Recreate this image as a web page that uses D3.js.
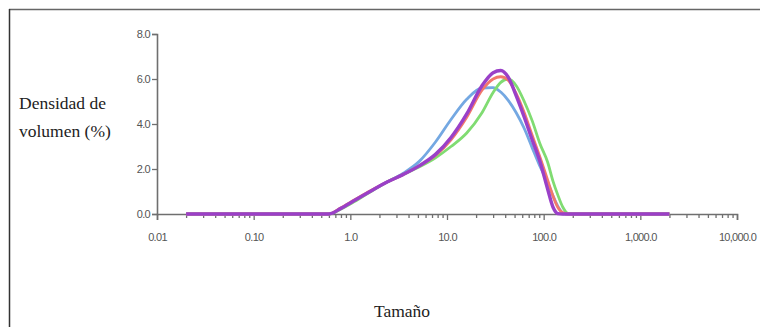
<!DOCTYPE html>
<html>
<head>
<meta charset="utf-8">
<script src="https://cdn.jsdelivr.net/npm/d3@7"></script>
<style>
  body { margin: 0; background: #fff; }
  .tick text { font-family: "Liberation Sans Narrow", "Arial Narrow", "Liberation Sans", sans-serif; font-size: 11px; letter-spacing: -0.7px; fill: #555; }
  .title { font-family: "Liberation Serif", "Times New Roman", serif; font-size: 17.5px; fill: #222; }
</style>
</head>
<body>
<div id="chart"></div>
<script>
// particle size (log scale) shared by every sample
var sizes = [0.02, 0.6, 0.8, 1.1, 1.6, 2.4, 3.5, 5.2, 7.6, 11, 16, 23, 30, 36, 43, 52, 63, 76, 92, 110, 125, 140, 158, 180, 250, 2000];

var blueVals   = [0, 0, 0.25, 0.6, 1.0, 1.42, 1.8, 2.35, 3.2, 4.2, 5.1, 5.6, 5.62, 5.42, 5.05, 4.5, 3.8, 2.95, 2.1, 1.4, 0.8, 0.35, 0.05, 0, 0, 0];
var greenVals  = [0, 0, 0.22, 0.55, 0.98, 1.42, 1.75, 2.1, 2.5, 3.0, 3.6, 4.5, 5.4, 5.85, 6.0, 5.7, 5.0, 4.15, 3.1, 2.3, 1.45, 0.85, 0.3, 0.02, 0, 0];
var redVals    = [0, 0, 0.28, 0.62, 1.02, 1.42, 1.75, 2.15, 2.6, 3.3, 4.3, 5.5, 6.0, 6.1, 5.95, 5.35, 4.5, 3.5, 2.5, 1.5, 0.8, 0.3, 0.05, 0, 0, 0];
var purpleVals = [0, 0, 0.25, 0.6, 1.0, 1.42, 1.75, 2.15, 2.65, 3.4, 4.45, 5.7, 6.28, 6.38, 6.08, 5.25, 4.3, 3.3, 2.3, 1.1, 0.3, 0.02, 0, 0, 0, 0];

var series = [
  { name: "blue", values: blueVals, color: "#74a8e2" },
  { name: "green", values: greenVals, color: "#80dc72" },
  { name: "red", values: redVals, color: "#f2786c" },
  { name: "purple", values: purpleVals, color: "#9a40c8" },
];

var majorTicks = [0.01, 0.1, 1, 10, 100, 1000, 10000];
var majorLabels = ["0.01", "0.10", "1.0", "10.0", "100.0", "1,000.0", "10,000.0"];
var yTicks = [0, 2, 4, 6, 8];

var width = 760, height = 327;

var svg = d3.select("#chart").append("svg")
  .attr("width", width)
  .attr("height", height);

// frame (top and left edges only)
svg.append("line").attr("x1", 9).attr("x2", width).attr("y1", 9.5).attr("y2", 9.5)
  .attr("stroke", "#666").attr("stroke-width", 1.5);
svg.append("line").attr("x1", 9.5).attr("x2", 9.5).attr("y1", 9).attr("y2", height)
  .attr("stroke", "#333").attr("stroke-width", 1.5);

var x = d3.scaleLog().domain([0.01, 10000]).range([157, 737]);
var y = d3.scaleLinear().domain([0, 8]).range([214, 34]);

var minorTicks = [];
majorTicks.slice(0, -1).forEach(function (m) {
  for (var k = 2; k <= 9; k++) minorTicks.push(m * k);
});

svg.append("g")
  .attr("transform", "translate(0,214)")
  .call(d3.axisBottom(x).tickValues(majorTicks).tickSize(6).tickPadding(13)
    .tickFormat(function (d, i) { return majorLabels[i]; }));
svg.append("g")
  .attr("transform", "translate(0,214)")
  .call(d3.axisBottom(x).tickValues(minorTicks).tickSize(4).tickFormat(""))
  .call(function (g) { g.select(".domain").remove(); });

svg.append("g")
  .attr("transform", "translate(157,0)")
  .call(d3.axisLeft(y).tickValues(yTicks).tickSize(5).tickPadding(2).tickFormat(d3.format(".1f")));

svg.selectAll(".domain").attr("stroke", "#6f6f6f").attr("stroke-width", 1.6);
svg.selectAll(".tick line").attr("stroke", "#6f6f6f").attr("stroke-width", 1.3);

var line = d3.line()
  .x(function (d) { return x(d[0]); })
  .y(function (d) { return y(d[1]); })
  .curve(d3.curveMonotoneX);

svg.append("g").selectAll("path")
  .data(series)
  .enter().append("path")
  .attr("d", function (s) { return line(sizes.map(function (v, i) { return [v, s.values[i]]; })); })
  .attr("fill", "none")
  .attr("stroke", function (s) { return s.color; })
  .attr("stroke-width", function (s) { return s.name === "purple" ? 3.4 : 2.8; })
  .attr("stroke-linejoin", "round");

svg.append("text").attr("class", "title").attr("x", 19).attr("y", 109).text("Densidad de");
svg.append("text").attr("class", "title").attr("x", 19).attr("y", 137).text("volumen (%)");
svg.append("text").attr("class", "title").attr("x", 402).attr("y", 317)
  .attr("text-anchor", "middle").text("Tamaño");
</script>
</body>
</html>
